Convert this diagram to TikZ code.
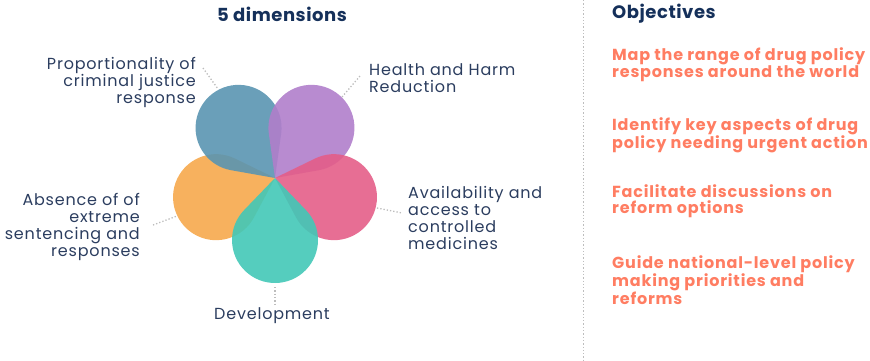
\documentclass[tikz,border=0pt]{standalone}
\usepackage{fontspec}
\setmainfont{Poppins}
\newfontfamily\spacedfont[LetterSpace=5]{Poppins}
\newfontfamily\headfont[LetterSpace=3]{Poppins}
\usepackage{xcolor}
\usetikzlibrary{calc}

\definecolor{navy}{HTML}{15305A}
\definecolor{labeltext}{HTML}{2B3D5F}
\definecolor{salmon}{HTML}{FF7D62}
\definecolor{dotgray}{HTML}{BDBDBD}
\definecolor{petalblue}{HTML}{5A95B1}
\definecolor{petalpurple}{HTML}{B07ECB}
\definecolor{petalpink}{HTML}{E45E88}
\definecolor{petalorange}{HTML}{F6A94C}
\definecolor{petalteal}{HTML}{42C8B7}

% one petal: tip at the origin, circle (r=43) at distance 62
\newcommand{\flowerpetal}[2]{%
  \fill[petal,#2] (0,0) -- ({#1-43.9}:44.67)
    arc[start angle={#1-133.9}, delta angle=267.8, radius=43] -- cycle;}

\begin{document}
\begin{tikzpicture}[x=1pt,y=1pt,
    petal/.style={fill opacity=0.9},
    dimlabel/.style={inner sep=0pt, text=labeltext,
      font=\spacedfont\fontsize{16}{17}\selectfont},
    objective/.style={inner sep=0pt, anchor=west, align=left, text=salmon,
      font=\spacedfont\fontsize{16}{16}\selectfont\bfseries},
    heading/.style={inner sep=0pt, text=navy,
      font=\headfont\fontsize{18}{20}\selectfont\bfseries},
    leader/.style={dotgray, line width=1.3pt, dotted}]
  \path[use as bounding box] (0,0) rectangle (870,-360);

  % separator
  \coordinate (sepTop) at (583,0);
  \coordinate (sepBot) at (583,-360);
  \draw[leader, line width=1pt] (sepTop) -- (sepBot);

  \node[heading] (dimtitle) at (282,-14) {5 dimensions};
  \node[heading, anchor=west] (objtitle) at (612,-14) {Objectives};

  % flower
  \begin{scope}[shift={(275,-178)}]
    \flowerpetal{198}{petalorange}
    \flowerpetal{126}{petalblue}
    \flowerpetal{54}{petalpurple}
    \flowerpetal{342}{petalpink}
    \flowerpetal{270}{petalteal}
  \end{scope}

  \node[dimlabel, anchor=east, align=right] (prop) at (196,-82)
    {Proportionality of\\criminal justice\\response};
  \node[dimlabel, anchor=west, align=left] (health) at (369,-78.5)
    {Health and Harm\\Reduction};
  \node[dimlabel, anchor=west, align=left] (avail) at (408,-217.5)
    {Availability and\\access to\\controlled\\medicines};
  \node[dimlabel, anchor=east, align=right] (absence) at (140,-227)
    {Absence of of\\extreme\\sentencing and\\responses};
  \node[dimlabel] (devel) at (272,-316) {Development};

  \coordinate (propA) at (203,-68);
  \coordinate (propB) at (218,-89);
  \coordinate (healthA) at (360,-76);
  \coordinate (healthB) at (342,-97);
  \coordinate (availA) at (377,-208);
  \coordinate (availB) at (402,-213);
  \coordinate (absA) at (153,-225);
  \coordinate (absB) at (177,-216);
  \coordinate (devA) at (275,-287);
  \coordinate (devB) at (275,-305);

  \draw[leader] (propA) -- (propB);
  \draw[leader] (healthA) -- (healthB);
  \draw[leader] (availA) -- (availB);
  \draw[leader] (absA) -- (absB);
  \draw[leader] (devA) -- (devB);

  % objectives
  \node[objective] (obj1) at (612,-65)
    {Map the range of drug policy\\responses around the world};
  \node[objective] (obj2) at (612,-135)
    {Identify key aspects of drug\\policy needing urgent action};
  \node[objective] (obj3) at (612,-201)
    {Facilitate discussions on\\reform options};
  \node[objective] (obj4) at (612,-280)
    {Guide national-level policy\\making priorities and\\reforms};
\end{tikzpicture}
\end{document}
